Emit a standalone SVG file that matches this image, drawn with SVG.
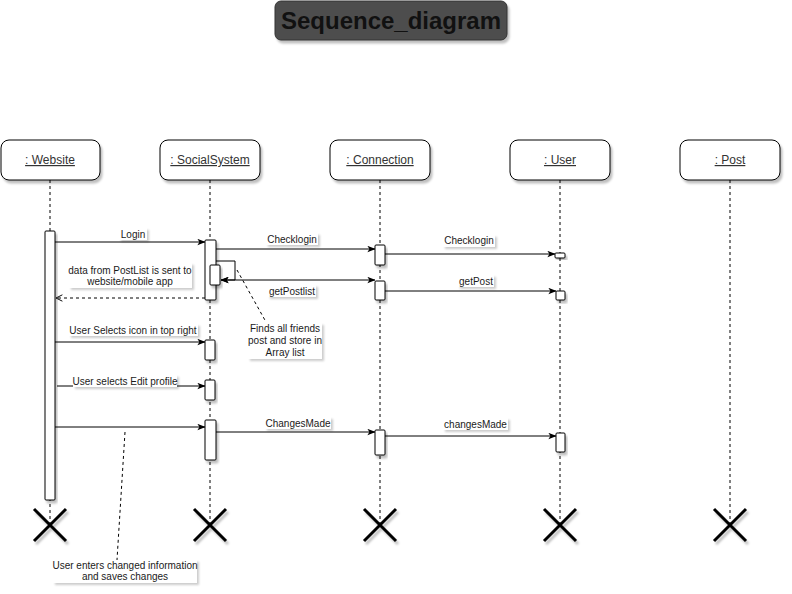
<svg xmlns="http://www.w3.org/2000/svg" width="792" height="594" viewBox="0 0 792 594">
<defs>
<filter id="sh" x="-20%" y="-20%" width="150%" height="160%"><feDropShadow dx="2" dy="3" stdDeviation="1" flood-color="#000" flood-opacity="0.25"/></filter>
<filter id="shs" x="-20%" y="-40%" width="150%" height="200%"><feDropShadow dx="2" dy="2" stdDeviation="1" flood-color="#000" flood-opacity="0.2"/></filter>
<marker id="ar" viewBox="0 0 10 8" refX="9.5" refY="4" markerWidth="8" markerHeight="7" orient="auto" markerUnits="userSpaceOnUse"><path d="M0,0 L10,4 L0,8 L2.5,4 z" fill="#000"/></marker>
<marker id="ars" viewBox="0 0 10 8" refX="0.5" refY="4" markerWidth="8" markerHeight="7" orient="auto" markerUnits="userSpaceOnUse"><path d="M10,0 L0,4 L10,8 L7.5,4 z" fill="#000"/></marker>
<marker id="op" viewBox="0 0 10 10" refX="9" refY="5" markerWidth="8" markerHeight="8" orient="auto" markerUnits="userSpaceOnUse"><path d="M1,1 L9,5 L1,9" fill="none" stroke="#000" stroke-width="1.2"/></marker>
</defs>
<style>
.head{fill:#fff;stroke:#000;stroke-width:1;filter:url(#sh)}
.ht{font-family:"Liberation Sans",Arial,sans-serif;font-size:12px;fill:#333;text-anchor:middle;text-decoration:underline}
.ll{stroke:#000;stroke-width:1;stroke-dasharray:3,3;fill:none}
.act{fill:#fff;stroke:#000;stroke-width:1;filter:url(#sh)}
.x{stroke:#000;stroke-width:3;fill:none;filter:url(#sh)}
.msg{stroke:#000;stroke-width:1;fill:none}
.lbl{font-family:"Liberation Sans",Arial,sans-serif;font-size:10px;fill:#1a1a1a;text-anchor:middle}
.lb{fill:#fff;filter:url(#shs)}
.note{stroke:#000;stroke-width:1;stroke-dasharray:3,3;fill:none}
</style>
<rect width="792" height="594" fill="#fff"/>

<g id="title">
<rect x="275" y="1" width="232" height="39" rx="6" fill="#4d4d4d" stroke="#333" stroke-width="1" filter="url(#sh)"/>
<text x="391" y="28.5" font-family="Liberation Sans,Arial,sans-serif" font-size="24" font-weight="bold" fill="#111" text-anchor="middle">Sequence_diagram</text>
</g>

<g id="website">
<line class="ll" x1="50" y1="180" x2="50" y2="525"/>
<rect class="head" x="1" y="140" width="99" height="40" rx="8"/>
<text class="ht" x="50" y="164">: Website</text>
<rect class="act" x="45" y="231" width="10" height="269" rx="1"/>
<path class="x" d="M34,509 L66,541 M66,509 L34,541"/>
</g>

<g id="socialsystem">
<line class="ll" x1="210" y1="180" x2="210" y2="525"/>
<rect class="head" x="160" y="140" width="100" height="40" rx="8"/>
<text class="ht" x="210" y="164">: SocialSystem</text>
<rect class="act" x="205" y="240" width="11" height="60" rx="1"/>
<rect class="act" x="210" y="265" width="10" height="20" rx="1"/>
<rect class="act" x="205" y="340" width="10" height="20" rx="1"/>
<rect class="act" x="205" y="380" width="10" height="20" rx="1"/>
<rect class="act" x="205" y="420" width="11" height="40" rx="1"/>
<path class="x" d="M194,509 L226,541 M226,509 L194,541"/>
</g>

<g id="connection">
<line class="ll" x1="380" y1="180" x2="380" y2="525"/>
<rect class="head" x="330" y="140" width="100" height="40" rx="8"/>
<text class="ht" x="380" y="164">: Connection</text>
<rect class="act" x="375" y="245" width="10" height="20" rx="1"/>
<rect class="act" x="375" y="281" width="10" height="19" rx="1"/>
<rect class="act" x="375" y="430" width="10" height="25" rx="1"/>
<path class="x" d="M364,509 L396,541 M396,509 L364,541"/>
</g>

<g id="user">
<line class="ll" x1="560" y1="180" x2="560" y2="525"/>
<rect class="head" x="510" y="140" width="100" height="40" rx="8"/>
<text class="ht" x="560" y="164">: User</text>
<rect class="act" x="555" y="253" width="10" height="5" rx="1"/>
<rect class="act" x="556" y="291" width="9" height="9" rx="1"/>
<rect class="act" x="556" y="433" width="9" height="19" rx="1"/>
<path class="x" d="M544,509 L576,541 M576,509 L544,541"/>
</g>

<g id="post">
<line class="ll" x1="730" y1="180" x2="730" y2="525"/>
<rect class="head" x="680" y="140" width="100" height="40" rx="8"/>
<text class="ht" x="730" y="164">: Post</text>
<path class="x" d="M714,509 L746,541 M746,509 L714,541"/>
</g>

<g id="connectors">
<line class="msg" x1="55" y1="242" x2="205" y2="242" marker-end="url(#ar)"/>
<line class="msg" x1="216" y1="249" x2="375" y2="249" marker-end="url(#ar)"/>
<line class="msg" x1="385" y1="254" x2="555" y2="254" marker-end="url(#ar)"/>
<path class="msg" d="M216,261 L235,261 L235,280 L221,280" marker-end="url(#ar)"/>
<line class="msg" x1="221" y1="280" x2="375" y2="280" marker-start="url(#ars)" marker-end="url(#ar)"/>
<line class="msg" x1="385" y1="291" x2="556" y2="291" marker-end="url(#ar)"/>
<line class="msg" x1="205" y1="298" x2="56" y2="298" stroke-dasharray="3,3" marker-end="url(#op)"/>
<line class="msg" x1="55" y1="342" x2="205" y2="342" marker-end="url(#ar)"/>
<line class="msg" x1="57" y1="386" x2="205" y2="386" marker-end="url(#ar)"/>
<line class="msg" x1="55" y1="427" x2="205" y2="427" marker-end="url(#ar)"/>
<line class="msg" x1="216" y1="432" x2="375" y2="432" marker-end="url(#ar)"/>
<line class="msg" x1="385" y1="436" x2="556" y2="436" marker-end="url(#ar)"/>
<line class="note" x1="237" y1="270" x2="266" y2="322"/>
<line class="note" x1="125" y1="432" x2="117" y2="560"/>
</g>

<g id="labels">
<rect class="lb" x="119" y="228" width="28" height="12"/>
<text class="lbl" x="133" y="237.5">Login</text>
<rect class="lb" x="266" y="233" width="52" height="12"/>
<text class="lbl" x="292" y="242.5">Checklogin</text>
<rect class="lb" x="443" y="235" width="52" height="12"/>
<text class="lbl" x="469" y="244">Checklogin</text>
<rect class="lb" x="69" y="263" width="123" height="25"/>
<text class="lbl" x="130" y="274">data from PostList is sent to</text>
<text class="lbl" x="130" y="285">website/mobile app</text>
<rect class="lb" x="268" y="285" width="48" height="12"/>
<text class="lbl" x="292" y="294.5">getPostlist</text>
<rect class="lb" x="458" y="275" width="36" height="12"/>
<text class="lbl" x="476" y="284.5">getPost</text>
<rect class="lb" x="248" y="323" width="74" height="36"/>
<text class="lbl" x="285" y="331.5">Finds all friends</text>
<text class="lbl" x="285" y="343.5">post and store in</text>
<text class="lbl" x="285" y="355.5">Array list</text>
<rect class="lb" x="69" y="324" width="129" height="12"/>
<text class="lbl" x="133" y="333.5">User Selects icon in top right</text>
<rect class="lb" x="73" y="375" width="104" height="12"/>
<text class="lbl" x="125" y="384.5">User selects Edit profile</text>
<rect class="lb" x="265" y="417" width="66" height="12"/>
<text class="lbl" x="298" y="426.5">ChangesMade</text>
<rect class="lb" x="443" y="418" width="65" height="12"/>
<text class="lbl" x="475.5" y="427.5">changesMade</text>
<rect class="lb" x="53" y="560" width="144" height="23"/>
<text class="lbl" x="125" y="569">User enters changed information</text>
<text class="lbl" x="125" y="580">and saves changes</text>
</g>
</svg>
